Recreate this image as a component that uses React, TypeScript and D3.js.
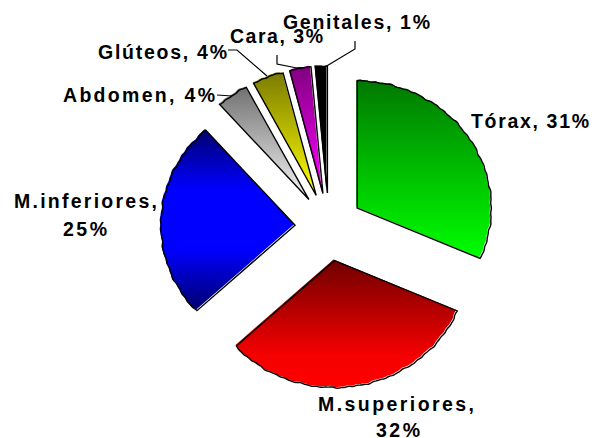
import * as d3 from 'd3';
import React, { useEffect, useRef } from 'react';

// Chart values (slice spans, the labels carry the rounded figures)
const regions = ['Tórax', 'M.superiores', 'M.inferiores', 'Abdomen', 'Glúteos', 'Cara', 'Genitales'];
const shares = [31.2, 32.4, 24.4, 3.9, 3.9, 2.7, 1.5];

// Gradient stops for every slice, top to bottom
const sliceStops = [
    ['#007800', '#00ff00'],
    ['#700000', '#9c0000', '#c90000', '#f60000', '#ff0000'],
    ['#00006e', '#0000ff', '#0000ff', '#00006e'],
    ['#707070', '#f4f4f4'],
    ['#7a7a00', '#ffff00'],
    ['#800080', '#ff00ff'],
    ['#000000', '#000000'],
];

// label rows: one or two lines, with the width each has in the picture
const labelLines = [
    { text: 'Tórax, 31%', x: 471, y: 128, w: 118 },
    { text: 'M.superiores,', x: 318, y: 411, w: 156 },
    { text: '32%', x: 376, y: 437, w: 44 },
    { text: 'M.inferiores,', x: 14, y: 208, w: 143 },
    { text: '25%', x: 63, y: 236, w: 44 },
    { text: 'Abdomen, 4%', x: 63, y: 102, w: 152 },
    { text: 'Glúteos, 4%', x: 98, y: 59, w: 129 },
    { text: 'Cara, 3%', x: 230, y: 43, w: 93 },
    { text: 'Genitales, 1%', x: 283, y: 29, w: 147 },
];

// Leader lines from label to slice
const leaders = [
    [[217, 95], [232, 96]],
    [[228, 50], [237, 50], [267, 76]],
    [[277, 55], [277, 64], [302, 69]],
    [[355, 41], [355, 49], [325, 67]],
];

function App() {
    const chartRef = useRef<SVGSVGElement>(null);

    const width = 592;
    const height = 438;
    const center = { x: 328, y: 226 };
    const explode = 34;
    const radiusX = 134;
    const radiusY = 127;

    useEffect(() => {
        // Clear previous SVG
        d3.select(chartRef.current).selectAll('*').remove();

        const svg = d3.select(chartRef.current)
            .attr('width', width)
            .attr('height', height)
            .style('position', 'absolute')
            .style('left', 0)
            .style('top', 0)
            .style('background-color', 'white');

        const defs = svg.append('defs');
        sliceStops.forEach((stops, i) => {
            const grad = defs.append('linearGradient')
                .attr('id', `slice-${i}`)
                .attr('x1', 0).attr('y1', 0)
                .attr('x2', 0).attr('y2', 1);
            stops.forEach((c, j) => {
                grad.append('stop')
                    .attr('offset', j / (stops.length - 1))
                    .attr('stop-color', c);
            });
        });

        const pie = d3.pie<number>().sort(null);
        const arcs = pie(shares);

        // the picture's pie is a bit wider than tall, with a lightly rippled rim
        const rim = (a: number) => {
            const r = 1 / Math.hypot(Math.sin(a) / radiusX, Math.cos(a) / radiusY);
            return r + 0.35 * Math.sin(a * 31) + 0.3 * Math.sin(a * 53) + 0.2 * Math.sin(a * 97);
        };
        const outline = d3.lineRadial<[number, number]>()
            .angle((d) => d[0])
            .radius((d) => d[1]);

        const slicePath = (d: d3.PieArcDatum<number>) => {
            const n = Math.max(2, Math.ceil((d.endAngle - d.startAngle) / 0.01));
            const pts: [number, number][] = [[d.startAngle, 0]];
            d3.range(n + 1).forEach((k) => {
                const a = d.startAngle + (d.endAngle - d.startAngle) * (k / n);
                pts.push([a, rim(a)]);
            });
            return `${outline(pts)}Z`;
        };

        const offset = (d: d3.PieArcDatum<number>) => {
            const mid = (d.startAngle + d.endAngle) / 2;
            return [center.x + explode * Math.sin(mid), center.y - explode * Math.cos(mid)];
        };

        const slices = svg.append('g').selectAll('g')
            .data(arcs)
            .join('g')
            .attr('class', (d, i) => `slice ${regions[i]}`)
            .attr('transform', (d) => `translate(${offset(d)})`);

        slices.append('path')
            .attr('d', slicePath)
            .attr('fill', (d, i) => `url(#slice-${i})`);

        // black outline sits slightly down-right, leaving a white bevel
        slices.append('path')
            .attr('d', slicePath)
            .attr('transform', 'translate(1,1)')
            .attr('fill', 'none')
            .attr('stroke', 'black')
            .attr('stroke-width', 1.4);

        const leaderLine = d3.line();
        svg.append('g').selectAll('path')
            .data(leaders)
            .join('path')
            .attr('d', (d) => leaderLine(d as [number, number][]))
            .attr('fill', 'none')
            .attr('stroke', 'black')
            .attr('stroke-width', 1.2);

        svg.append('g').selectAll('text')
            .data(labelLines)
            .join('text')
            .attr('x', (d) => d.x)
            .attr('y', (d) => d.y)
            .attr('textLength', (d) => d.w)
            .attr('lengthAdjust', 'spacing')
            .style('font-family', '"Liberation Sans", Arial, sans-serif')
            .style('font-weight', 'bold')
            .style('font-size', '19.5px')
            .style('fill', 'black')
            .text((d) => d.text);
    }, []);

    return (
        <div id="pie-chart">
            <svg ref={chartRef} />
        </div>
    );
}

export default App;
